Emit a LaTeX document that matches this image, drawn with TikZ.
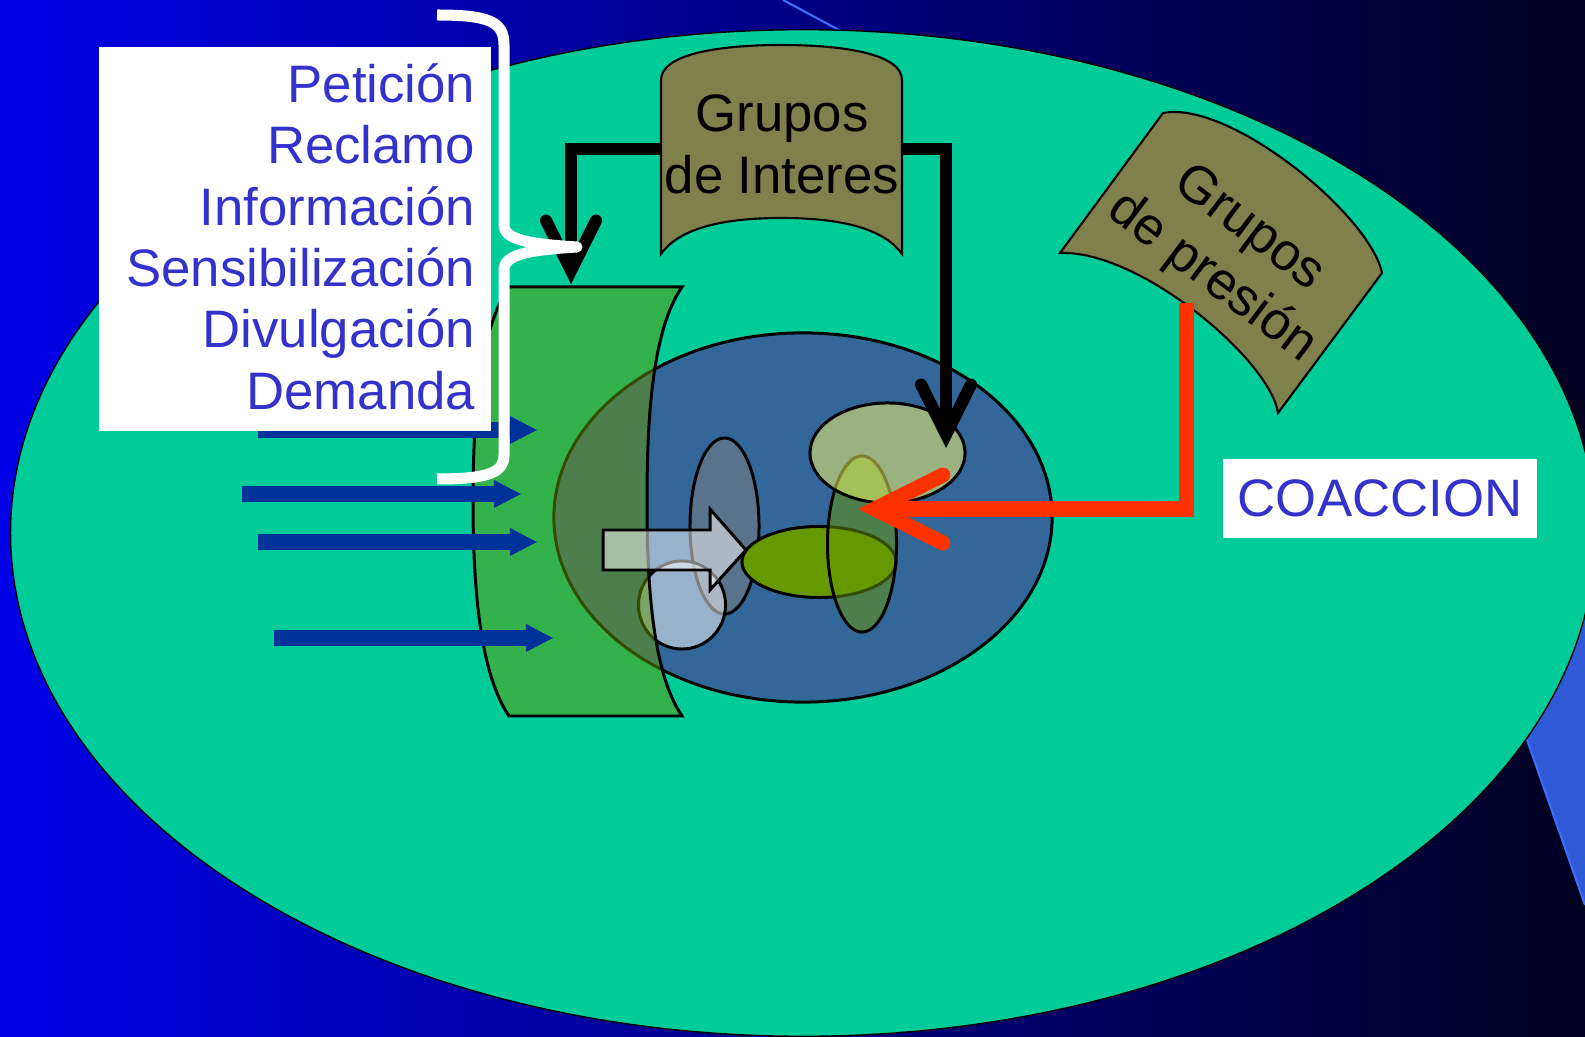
\documentclass[tikz,border=0pt]{standalone}
\usepackage{fontspec}
\setmainfont{Liberation Sans}
\usetikzlibrary{arrows.meta,shapes.geometric}
\definecolor{fondoA}{RGB}{0,0,232}
\definecolor{fondoB}{RGB}{0,0,32}
\definecolor{decor}{RGB}{46,90,216}
\definecolor{decorlinea}{RGB}{60,110,250}
\definecolor{entorno}{RGB}{0,204,153}
\definecolor{nucleo}{RGB}{51,102,153}
\definecolor{hoja}{RGB}{102,153,0}
\definecolor{amarilloC}{RGB}{255,255,102}
\definecolor{oliva}{RGB}{128,128,77}
\definecolor{texto}{RGB}{51,51,204}
\definecolor{flecha}{RGB}{0,51,153}
\definecolor{rojo}{RGB}{255,51,0}

\begin{document}
\begin{tikzpicture}[x=0.01cm, y=-0.01cm,
    letra/.style={font=\fontsize{15}{17.6}\selectfont, inner sep=0pt},
    item/.style={letra, text=texto, anchor=base east},
    mancha/.style={ellipse, draw=black, line width=0.85pt, inner sep=0pt},
    flechazul/.style={draw=flecha, line width=0.16cm, -{Triangle[length=0.27cm, width=0.28cm, line width=0pt]}},
    conector/.style={line width=0.12cm, line join=miter, -{Straight Barb[length=0.5cm, width=0.5cm, line cap=round]}}]
    \useasboundingbox (0,0) rectangle (1585,1037);
    \clip (0,0) rectangle (1585,1037);
    % fondo
    \shade[left color=fondoA, right color=fondoB] (0,0) rectangle (1585,1037);
    \draw[decorlinea, line width=0.6pt] (783,0) -- (880,52);
    \fill[decor] (1492,640) -- (1585,905) -- (1585,560) -- cycle;
    \draw[decorlinea, line width=0.6pt] (1492,640) -- (1585,905);
    \node[mancha, fill=entorno, line width=0.4pt, minimum width=15.84cm, minimum height=10.06cm] (entorno) at (803,533) {};
    % nucleo
    \node[mancha, fill=nucleo, minimum width=4.98cm, minimum height=3.69cm] (nucleo) at (803,517.5) {};
    \node[mancha, fill=gray, fill opacity=0.5, minimum width=0.69cm, minimum height=1.76cm] (gris) at (724.5,526) {};
    \node[mancha, fill=white, fill opacity=0.5, minimum width=0.87cm, minimum height=0.88cm] (claro) at (682,605) {};
    % hoja verde
    \filldraw[fill=hoja, fill opacity=0.5, line width=0.85pt] (509,287) -- (682,287)
        .. controls (652,330) and (647,420) .. (647,501)
        .. controls (647,582) and (652,672) .. (682,716) -- (509,716)
        .. controls (479,672) and (473,582) .. (473,501)
        .. controls (473,420) and (479,330) .. (509,287) -- cycle;
    \node[mancha, fill=hoja, minimum width=1.54cm, minimum height=0.71cm] (verdeH) at (819,562) {};
    \node[mancha, fill=hoja, fill opacity=0.5, minimum width=0.69cm, minimum height=1.76cm] (verdeV) at (862,544) {};
    \node[mancha, fill=amarilloC, fill opacity=0.5, minimum width=1.55cm, minimum height=1.00cm] (amarillo) at (887.5,453) {};
    % flecha grande
    \filldraw[fill=white, fill opacity=0.5, line width=0.85pt, line join=miter] (603,530) -- (710,530) -- (710,509)
        -- (746,550) -- (710,590) -- (710,570) -- (603,570) -- cycle;
    % flechas azules
    \foreach \y/\x in {430/258, 494/242, 542/258, 638/274}
        \draw[flechazul] (\x,\y) -- ++(279,0);
    % lista
    \node[fill=white, minimum width=3.92cm, minimum height=3.84cm, inner sep=0pt, anchor=north west] (lista) at (98,46) {};
    \foreach \palabra [count=\i] in {Petición, Reclamo, Información, Sensibilización, Divulgación, Demanda}
        \node[item] (item\i) at (476,{102.7+61.3*(\i-1)}) {\palabra};
    % grupos de interes
    \filldraw[fill=oliva, line width=0.6pt] (661,254) -- (661,80)
        .. controls (661,55) and (715,45) .. (781.5,45)
        .. controls (848,45) and (902,55) .. (902,80) -- (902,254)
        .. controls (885,230) and (845,218) .. (781.5,218)
        .. controls (718,218) and (678,230) .. (661,254) -- cycle;
    \node[letra, align=center] (interes) at (782,144) {Grupos\\de Interes};
    % grupos de presion
    \filldraw[fill=oliva, line width=0.6pt] (1163,113)
        .. controls (1230,100) and (1370,215) .. (1382,273) -- (1278,413)
        .. controls (1270,360) and (1140,250) .. (1060,253) -- cycle;
    \node[letra, align=center, rotate=-37] (presion) at (1230,254) {Grupos\\de presión};
    \node[letra, fill=white, text=texto, minimum width=3.14cm, minimum height=0.79cm] (coaccion) at (1380,498.5) {COACCION};
    % conectores
    \coordinate (interesO) at (661,149.5);
    \coordinate (interesE) at (902,149.5);
    \coordinate (verdeN) at (571,284);
    \coordinate (meta) at (946,448);
    \coordinate (presionS) at (1186,303);
    \coordinate (blanco) at (858,509);
    \draw[conector] (interesO) -| (verdeN);
    \draw[conector] (interesE) -| (meta);
    \draw[conector, draw=rojo, line width=0.15cm, -{Straight Barb[length=0.68cm, width=0.68cm, line cap=round]}] (presionS) |- (blanco);
    % llave
    \draw[white, line width=0.11cm, line join=round] (437,15) .. controls (490,15) and (504,22) .. (504,45) -- (504,225)
        .. controls (504,240) and (530,244) .. (577,247)
        .. controls (530,250) and (504,254) .. (504,270) -- (504,455)
        .. controls (504,472) and (490,479) .. (437,479);
\end{tikzpicture}
\end{document}
